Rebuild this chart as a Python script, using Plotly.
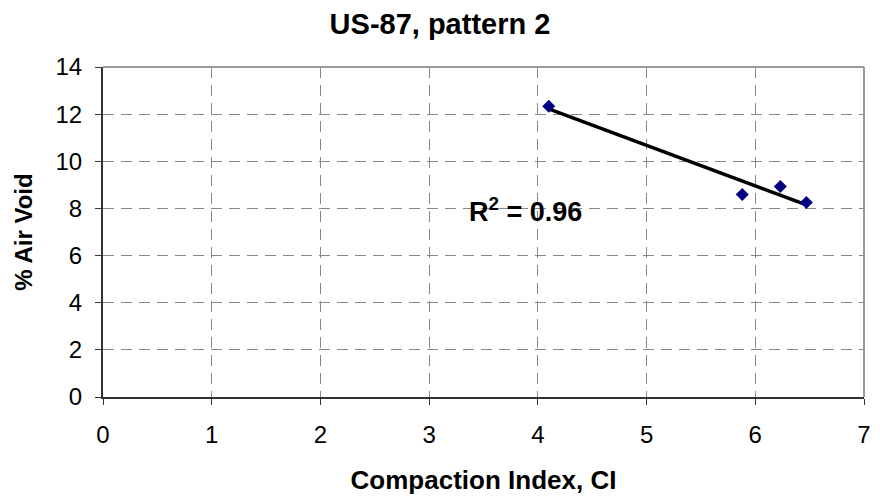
import numpy as np
import plotly.graph_objects as go

ci = [4.10, 5.88, 6.23, 6.47]
air_void = [12.33, 8.59, 8.93, 8.25]
x_ticks = [0, 1, 2, 3, 4, 5, 6, 7]
y_ticks = [0, 2, 4, 6, 8, 10, 12, 14]

slope, intercept = np.polyfit(ci, air_void, 1)
fit_x = [min(ci), max(ci)]
fit_y = [slope * v + intercept for v in fit_x]

FONT = "Liberation Sans, Arial"

fig = go.Figure()
fig.add_trace(go.Scatter(x=fit_x, y=fit_y, mode="lines",
                         line=dict(color="black", width=3.5), showlegend=False))
fig.add_trace(go.Scatter(x=ci, y=air_void, mode="markers",
                         marker=dict(symbol="diamond", size=10, color="#000080"),
                         showlegend=False))

fig.add_annotation(x=3.89, y=7.95, xref="x", yref="y",
                   text="<b>R<sup>2</sup> = 0.96</b>", showarrow=False,
                   font=dict(family=FONT, size=27, color="black"))

axis_common = dict(showline=True, linecolor="#333333", linewidth=2,
                   ticks="outside", ticklen=6, tickcolor="#333333", tickwidth=1,
                   showgrid=True, gridcolor="#888888", griddash="11px,7px", gridwidth=1,
                   zeroline=False,
                   tickfont=dict(family=FONT, size=24, color="black"))

fig.update_xaxes(range=[0, 7], tickvals=x_ticks, ticklabelstandoff=9, **axis_common,
                 title=dict(text="<b>Compaction Index, CI</b>", standoff=24,
                            font=dict(family=FONT, size=26, color="black")))
fig.update_yaxes(range=[0, 14], tickvals=y_ticks, ticklabelstandoff=8, **axis_common,
                 title=dict(text="<b>% Air Void</b>", standoff=16,
                            font=dict(family=FONT, size=24, color="black")))

fig.add_shape(type="line", xref="paper", yref="paper", x0=0, y0=1, x1=1, y1=1,
              line=dict(color="#999999", width=2))
fig.add_shape(type="line", xref="paper", yref="paper", x0=1, y0=0, x1=1, y1=1,
              line=dict(color="#999999", width=2))

fig.update_layout(
    width=880, height=499,
    margin=dict(l=103, r=9, t=67, b=100),
    paper_bgcolor="white", plot_bgcolor="white",
    title=dict(text="<b>US-87, pattern 2</b>", x=0.5, xanchor="center",
               y=1 - 24 / 499, yanchor="middle",
               font=dict(family=FONT, size=29, color="black")),
)

fig.write_html("out.html", config={"displayModeBar": False},
               post_script="document.body.style.margin='0';")
